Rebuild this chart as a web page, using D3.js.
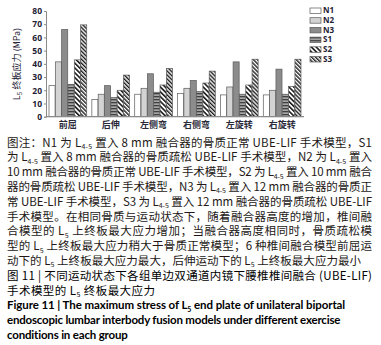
<!DOCTYPE html>
<html>
<head>
<meta charset="utf-8">
<script src="https://cdn.jsdelivr.net/npm/d3@7"></script>
<style>
  html, body { margin: 0; padding: 0; background: #fff; }
  svg { display: block; }
</style>
</head>
<body>
<div id="chart"></div>
<script>
const groups = ["前屈", "后伸", "左侧弯", "右侧弯", "左旋转", "右旋转"];
const seriesNames = ["N1", "N2", "N3", "S1", "S2", "S3"];
const n1 = [23.5, 13, 17, 17.5, 16.5, 16.5];
const n2 = [41.5, 17, 21.5, 21.5, 22.5, 20];
const n3 = [66, 23.5, 32.5, 27.5, 41.5, 36];
const s1 = [24.5, 14.5, 18.5, 19, 17, 17];
const s2 = [43, 20, 24, 25.5, 24, 23];
const s3 = [69.5, 31.5, 36.5, 34.5, 43.5, 43.5];
const yTicks = [0, 10, 20, 30, 40, 50, 60, 70, 80];

// caption lines, "_{..}" marks a subscript
const captionLines = [
  "图注：N1 为 L_{4-5} 置入 8 mm 融合器的骨质正常 UBE-LIF 手术模型，S1",
  "为 L_{4-5} 置入 8 mm 融合器的骨质疏松 UBE-LIF 手术模型，N2 为 L_{4-5} 置入",
  "10 mm 融合器的骨质正常 UBE-LIF 手术模型，S2 为 L_{4-5} 置入 10 mm 融合",
  "器的骨质疏松 UBE-LIF 手术模型，N3 为 L_{4-5} 置入 12 mm 融合器的骨质正",
  "常 UBE-LIF 手术模型，S3 为 L_{4-5} 置入 12 mm 融合器的骨质疏松 UBE-LIF",
  "手术模型。在相同骨质与运动状态下，随着融合器高度的增加，椎间融",
  "合模型的 L_{5} 上终板最大应力增加；当融合器高度相同时，骨质疏松模",
  "型的 L_{5} 上终板最大应力稍大于骨质正常模型；6 种椎间融合模型前屈运",
  "动下的 L_{5} 上终板最大应力最大，后伸运动下的 L_{5} 上终板最大应力最小",
  "图 11 | 不同运动状态下各组单边双通道内镜下腰椎椎间融合 (UBE-LIF)",
  "手术模型的 L_{5} 终板最大应力",
  "Figure 11  |  The maximum stress of L_{5} end plate of unilateral biportal",
  "endoscopic lumbar interbody fusion models under different exercise",
  "conditions in each group"
];
// justified widths (null = natural)
const captionWidths = [365, 365, 365, 365, 365, 365, 365, 365, 354, 365, 148, 338, 333, 121];

const values = [n1, n2, n3, s1, s2, s3];
const data = groups.map((g, i) => ({
  group: g,
  bars: seriesNames.map((s, k) => ({ series: s, value: values[k][i] }))
}));

const W = 381, H = 345;
const svg = d3.select("#chart").append("svg")
  .attr("width", W).attr("height", H)
  .attr("viewBox", [0, 0, W, H]);

// patterns
const defs = svg.append("defs");
const pS1 = defs.append("pattern").attr("id", "pS1")
  .attr("patternUnits", "userSpaceOnUse").attr("width", 4).attr("height", 3);
pS1.append("rect").attr("width", 4).attr("height", 3).attr("fill", "#a6a6a6");
pS1.append("rect").attr("y", 0).attr("width", 4).attr("height", 1.3).attr("fill", "#404040");

function hatch(id, size, lw) {
  const p = defs.append("pattern").attr("id", id)
    .attr("patternUnits", "userSpaceOnUse")
    .attr("width", size).attr("height", size)
    .attr("patternTransform", "rotate(-45)");
  p.append("rect").attr("width", size).attr("height", size).attr("fill", "#fff");
  p.append("rect").attr("width", lw).attr("height", size).attr("fill", "#1a1a1a");
}
hatch("pS2", 3.4, 1.6);
hatch("pS3", 2.8, 1.4);

const fills = {
  N1: "#ffffff", N2: "#d3d3d3", N3: "#8c8c8c",
  S1: "url(#pS1)", S2: "url(#pS2)", S3: "url(#pS3)"
};

const left = 46, right = 304;
const x0 = d3.scaleBand()
  .domain(groups)
  .range([left, right])
  .paddingInner(0.12)
  .paddingOuter(0.07);
const x1 = d3.scaleBand()
  .domain(seriesNames)
  .range([0, x0.bandwidth()])
  .paddingInner(0.04);
const y = d3.scaleLinear().domain([0, 80]).range([116.7, 11]);

// y axis
const yAxis = svg.append("g")
  .attr("transform", `translate(${left},0)`)
  .call(d3.axisLeft(y).tickValues(yTicks).tickSize(2).tickPadding(2));
yAxis.select(".domain").attr("stroke", "#8a8a8a").attr("stroke-width", 1);
yAxis.selectAll(".tick line").attr("stroke", "#8a8a8a");
yAxis.selectAll("text")
  .attr("fill", "#1e2235")
  .style("font", "bold 8.5px 'Open Sans', sans-serif");

// bars
const gGroups = svg.append("g").selectAll("g")
  .data(data).enter().append("g")
  .attr("transform", d => `translate(${x0(d.group)},0)`);
gGroups.selectAll("rect")
  .data(d => d.bars).enter().append("rect")
  .attr("x", d => x1(d.series))
  .attr("y", d => y(d.value))
  .attr("width", x1.bandwidth())
  .attr("height", d => y(0) - y(d.value))
  .attr("fill", d => fills[d.series])
  .attr("stroke", "#5a5a5a")
  .attr("stroke-width", 0.7);

// x axis
const xAxis = svg.append("g")
  .attr("transform", `translate(0,${y(0)})`)
  .call(d3.axisBottom(x0).tickSize(0).tickPadding(5));
xAxis.select(".domain").attr("stroke", "#8a8a8a").attr("stroke-width", 1.2)
  .attr("d", `M${left},0H${right}`);
xAxis.selectAll("text")
  .attr("fill", "#2a2a3a")
  .style("font", "bold 9px 'Noto Sans CJK SC', sans-serif");

// y label
const yl = svg.append("text")
  .attr("transform", "translate(20,64) rotate(-90)")
  .attr("text-anchor", "middle")
  .attr("fill", "#1e2235")
  .style("font", "9px 'Noto Sans CJK SC', sans-serif");
yl.append("tspan").text("L");
yl.append("tspan").attr("dy", 2).style("font-size", "6.5px").text("5");
yl.append("tspan").attr("dy", -2).text(" 终板应力 (MPa)");

// legend
const legend = svg.append("g").selectAll("g")
  .data(seriesNames).enter().append("g")
  .attr("transform", (d, i) => `translate(310,${8 + i * 9.7})`);
legend.append("rect")
  .attr("width", 11).attr("height", 5.5)
  .attr("fill", d => fills[d])
  .attr("stroke", "#5a5a5a").attr("stroke-width", 0.7);
legend.append("text")
  .attr("x", 13).attr("y", 5.3)
  .attr("fill", "#1e2235")
  .style("font", "bold 8px 'Open Sans', sans-serif")
  .text(d => d);

// caption
function addLine(str, i) {
  const bold = i >= 11;
  const t = svg.append("text")
    .attr("x", 7)
    .attr("y", 146.5 + i * 14.8)
    .attr("fill", i >= 9 ? "#000" : "#231815")
    .style("font", bold ? "bold 11.5px Lato, sans-serif" : "11.5px 'Noto Sans CJK SC', sans-serif");
  const parts = str.split(/(_\{[^}]*\})/);
  let shifted = false;
  let count = 0;
  parts.forEach(p => {
    if (!p) return;
    if (p.startsWith("_{")) {
      const s = p.slice(2, -1);
      t.append("tspan").attr("dy", 2.5).style("font-size", "7px").text(s);
      count += s.length;
      shifted = true;
    } else {
      t.append("tspan").attr("dy", shifted ? -2.5 : 0).text(p);
      count += p.length;
      shifted = false;
    }
  });
  const target = captionWidths[i];
  if (target) {
    const len = t.node().getComputedTextLength();
    const ls = (target - len) / Math.max(1, count - 1);
    t.style("letter-spacing", ls + "px");
  }
}
captionLines.forEach(addLine);
</script>
</body>
</html>
